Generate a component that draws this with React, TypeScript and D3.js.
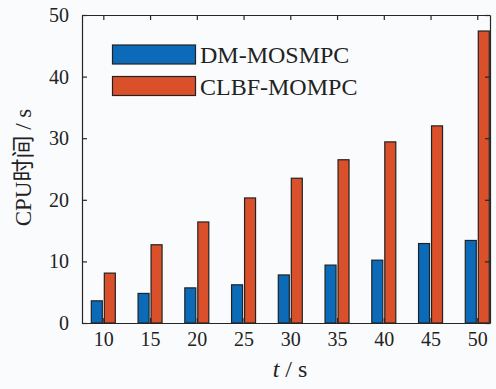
import { axisBottom, axisLeft, axisRight, axisTop, scaleLinear, select } from "d3"
import { useEffect, useRef } from "react"

const times = [10, 15, 20, 25, 30, 35, 40, 45, 50]
const dmMosmpc = [3.6, 4.8, 5.7, 6.2, 7.8, 9.4, 10.2, 12.9, 13.4]
const clbfMompc = [8.1, 12.7, 16.4, 20.3, 23.5, 26.5, 29.4, 32.0, 47.4]
const yTicks = [0, 10, 20, 30, 40, 50]
const seriesNames = ["DM-MOSMPC", "CLBF-MOMPC"]
const seriesColors = ["#0b6bb8", "#d9502a"]

const W = 496
const H = 389
const serif = "'Liberation Serif', 'Times New Roman', 'Noto Sans CJK SC', serif"

const App = () => {
    const ref = useRef<SVGSVGElement>(null)

    useEffect(() => {
        const svg = select(ref.current)
        svg.selectAll("*").remove()

        const left = 82, right = 490, top = 15, bottom = 323
        const x = scaleLinear().domain([7.72, 51.36]).range([left, right])
        const y = scaleLinear().domain([0, 50]).range([bottom, top])

        svg.append("rect").attr("width", W).attr("height", H).attr("fill", "#fafbfd")

        const barW = 11
        const offs = [-6.5, 6.5]
        const series = [dmMosmpc, clbfMompc]
        series.forEach((vals, si) => {
            svg.append("g").selectAll("rect")
                .data(vals)
                .join("rect")
                .attr("x", (d, i) => x(times[i]) + offs[si] - barW / 2)
                .attr("y", d => y(d))
                .attr("width", barW)
                .attr("height", d => y(0) - y(d))
                .attr("fill", seriesColors[si])
                .attr("stroke", "#222")
                .attr("stroke-width", 1.2)
        })

        const styleAxis = (g, hideText) => {
            g.select(".domain").attr("stroke", "#262626").attr("stroke-width", 1.2)
            g.selectAll(".tick line").attr("stroke", "#262626").attr("stroke-width", 1.2)
            g.selectAll(".tick text")
                .attr("fill", "#222")
                .style("font-family", serif)
                .style("font-size", "20px")
            if (hideText) g.selectAll(".tick text").remove()
        }

        svg.append("g").attr("transform", `translate(0,${bottom})`)
            .call(axisBottom(x).tickValues(times).tickSizeInner(-5).tickSizeOuter(0).tickPadding(9))
            .call(g => styleAxis(g, false))
        svg.append("g").attr("transform", `translate(0,${top})`)
            .call(axisTop(x).tickValues(times).tickSizeInner(-5).tickSizeOuter(0))
            .call(g => styleAxis(g, true))
        svg.append("g").attr("transform", `translate(${left},0)`)
            .call(axisLeft(y).tickValues(yTicks).tickSizeInner(-5).tickSizeOuter(0).tickPadding(13))
            .call(g => styleAxis(g, false))
        svg.append("g").attr("transform", `translate(${right},0)`)
            .call(axisRight(y).tickValues(yTicks).tickSizeInner(-5).tickSizeOuter(0))
            .call(g => styleAxis(g, true))

        // legend
        const leg = svg.append("g")
        seriesNames.forEach((name, i) => {
            const cy = 54.5 + i * 31.5
            leg.append("rect")
                .attr("x", 112.5).attr("y", cy - 9.5)
                .attr("width", 83).attr("height", 19)
                .attr("fill", seriesColors[i])
                .attr("stroke", "#222").attr("stroke-width", 1.2)
            leg.append("text")
                .attr("x", 200).attr("y", cy + 8.5)
                .attr("fill", "#222")
                .style("font-family", serif)
                .style("font-size", "24px")
                .text(name)
        })

        // axis titles
        svg.append("text")
            .attr("transform", `translate(31,${(108 + 227) / 2}) rotate(-90)`)
            .attr("text-anchor", "middle")
            .attr("fill", "#222")
            .style("font-family", serif)
            .style("font-size", "23px")
            .text("CPU时间 / s")

        const xl = svg.append("text")
            .attr("x", 290).attr("y", 377)
            .attr("text-anchor", "middle")
            .attr("fill", "#222")
            .style("font-family", serif)
            .style("font-size", "24px")
        xl.append("tspan").style("font-style", "italic").text("t")
        xl.append("tspan").text(" / s")
    }, [])

    return (
        <svg ref={ref} width={W} height={H} style={{ position: "absolute", left: 0, top: 0 }} />
    )
}

export default App
